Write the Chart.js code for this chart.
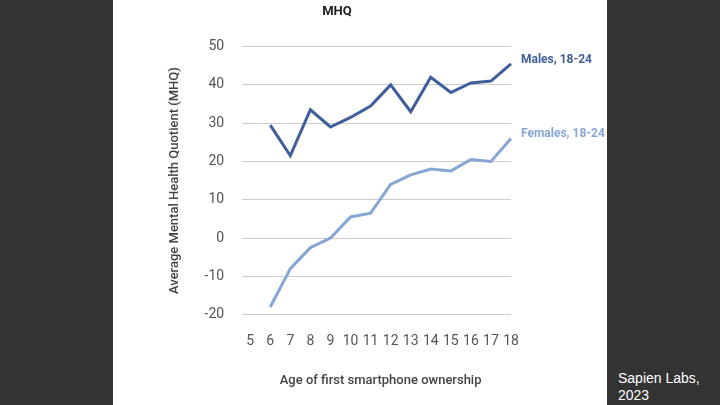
<!DOCTYPE html>
<html><head><meta charset="utf-8">
<script src="https://cdn.jsdelivr.net/npm/chart.js@4"></script>
<style>
body{margin:0;width:720px;height:405px;background:#333;position:relative;overflow:hidden;font-family:Roboto,sans-serif}
#panel{position:absolute;left:113px;top:0;width:494px;height:405px;background:#fff}
#credit{position:absolute;left:618px;top:370px;color:#fff;font:14px Arial,"Liberation Sans",sans-serif;line-height:17px}
</style></head><body>
<div id="panel"><canvas id="c" width="494" height="405"></canvas></div>
<div id="credit">Sapien Labs,<br>2023</div>
<script>
const ages = ['5','6','7','8','9','10','11','12','13','14','15','16','17','18'];
const males = [null,29.5,21.5,33.5,29,31.5,34.5,40,33,42,38,40.5,41,45.5];
const females = [null,-18,-8,-2.5,0,5.5,6.5,14,16.5,18,17.5,20.5,20,26];
const seriesNames = ['Males, 18-24','Females, 18-24'];
const colors = ['#3f5e9a','#86a6d4'];

const endLabels = {
  id:'endLabels',
  afterDatasetsDraw(chart){
    const ctx = chart.ctx;
    chart.data.datasets.forEach((ds,i)=>{
      const meta = chart.getDatasetMeta(i);
      const p = meta.data[meta.data.length-1];
      ctx.save();
      ctx.fillStyle = colors[i];
      ctx.font = 'bold 12px Roboto';
      ctx.textBaseline = 'middle';
      ctx.fillText(seriesNames[i], p.x+10, p.y - 4);
      ctx.restore();
    });
  }
};

new Chart(document.getElementById('c'),{
  type:'line',
  data:{labels:ages,datasets:[
    {data:males,borderColor:colors[0],borderWidth:3,pointRadius:0,tension:0},
    {data:females,borderColor:colors[1],borderWidth:3,pointRadius:0,tension:0}
  ]},
  options:{
    responsive:false,animation:false,
    layout:{padding:{left:50,right:96,top:2,bottom:12}},
    plugins:{legend:{display:false},tooltip:{enabled:false},
      title:{display:true,text:'MHQ',color:'#222',font:{family:'Roboto',size:13,weight:'bold'},padding:{top:2,bottom:27}}},
    scales:{
      x:{grid:{display:false},border:{display:false},
        ticks:{color:'#555',font:{family:'Roboto',size:14},padding:10,maxRotation:0,autoSkip:false},
        title:{display:true,text:'Age of first smartphone ownership',color:'#444',font:{family:'Roboto',size:13,weight:'500'},padding:{top:14}}},
      y:{min:-20,max:50,grid:{color:'#ccc'},border:{display:false},
        ticks:{stepSize:10,color:'#555',font:{family:'Roboto',size:14},padding:18},
        title:{display:true,text:'Average Mental Health Quotient (MHQ)',color:'#444',font:{family:'Roboto',size:13,weight:'500'}}}
    }
  },
  plugins:[endLabels]
});
</script>
</body></html>
